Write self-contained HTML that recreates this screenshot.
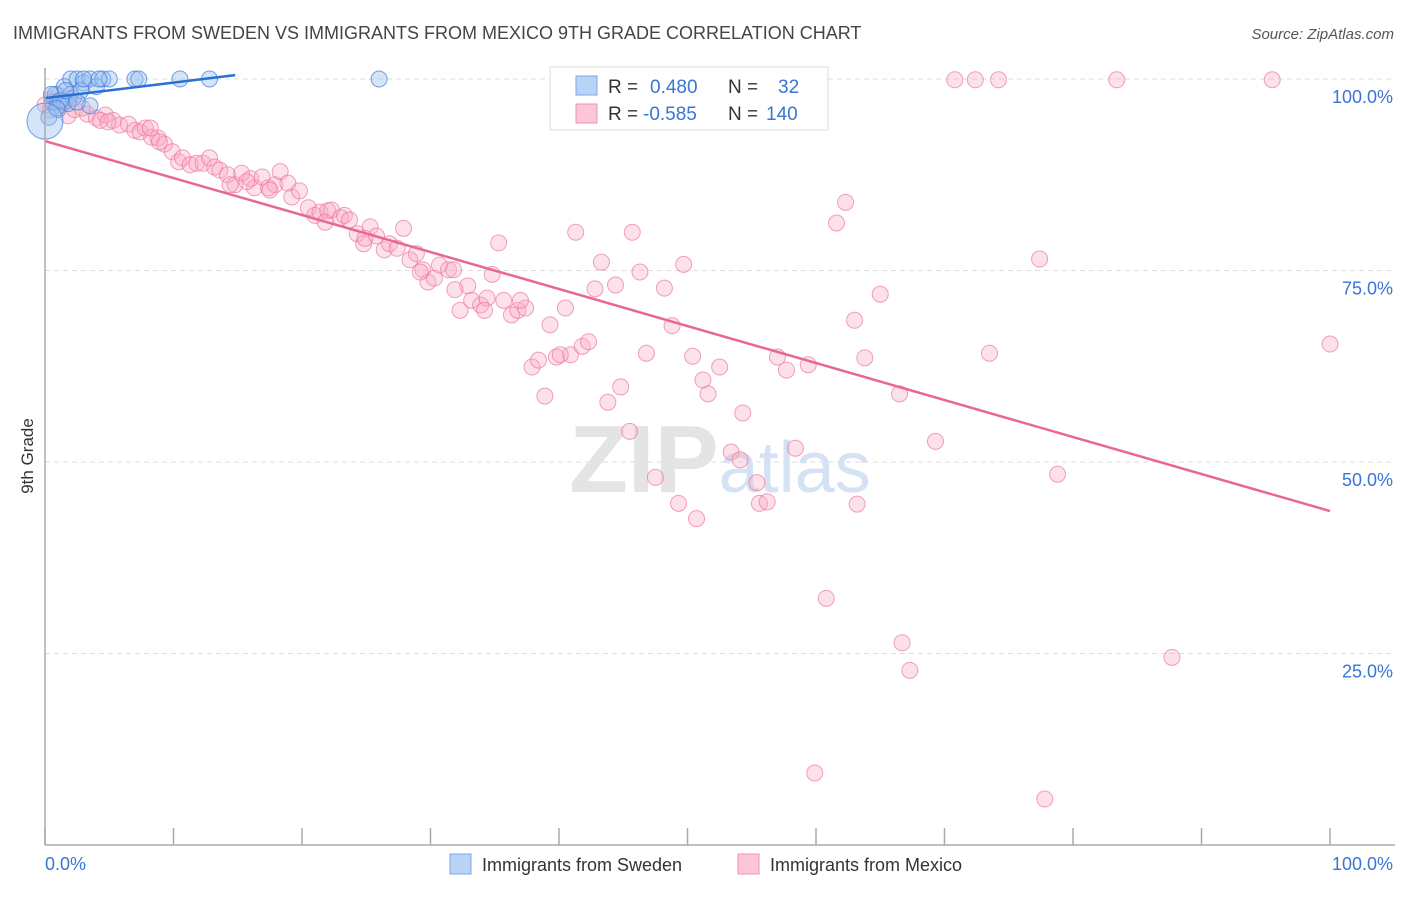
<!DOCTYPE html>
<html><head><meta charset="utf-8"><style>
body{margin:0;background:#fff;font-family:"Liberation Sans",sans-serif;}
svg text{font-family:"Liberation Sans",sans-serif;}
</style></head><body>
<svg id="chart" width="1406" height="892" viewBox="0 0 1406 892" xmlns="http://www.w3.org/2000/svg">
<text x="13" y="39" font-size="18" fill="#444">IMMIGRANTS FROM SWEDEN VS IMMIGRANTS FROM MEXICO 9TH GRADE CORRELATION CHART</text>
<text x="1394" y="39" font-size="15" fill="#555" text-anchor="end" font-style="italic">Source: ZipAtlas.com</text>
<text transform="translate(33,456) rotate(-90)" font-size="17" fill="#333" text-anchor="middle">9th Grade</text>
<g id="grid"></g>
<text x="720" y="492" font-size="96" text-anchor="middle" fill="#e4e4e4" font-family="Liberation Serif" font-weight="bold">ZIP<tspan fill="#d4e2f4" font-family="Liberation Sans" font-weight="normal" font-size="72">atlas</tspan></text>
<g id="pink"></g>
<g id="blue"></g>
<g id="trends"></g>
<g id="axes"></g>
<g>
<rect x="550" y="67" width="278" height="63" fill="#fff" stroke="#ddd"/>
<rect x="576" y="76" width="21" height="19" fill="#b8d3f5" stroke="#7aa8e4"/>
<rect x="576" y="104" width="21" height="19" fill="#fbc6d6" stroke="#f090b0"/>
<text x="608" y="93" font-size="19" fill="#333">R = <tspan fill="#3a74d4" x="650">0.480</tspan><tspan x="728" fill="#333">N =</tspan><tspan x="778" fill="#3a74d4">32</tspan></text>
<text x="608" y="120" font-size="19" fill="#333">R = <tspan fill="#3a74d4" x="643">-0.585</tspan><tspan x="728" fill="#333">N =</tspan><tspan x="766" fill="#3a74d4">140</tspan></text>
</g>
<g>
<rect x="450" y="854" width="21" height="20" fill="#b8d3f5" stroke="#7aa8e4"/>
<text x="482" y="871" font-size="18" fill="#333">Immigrants from Sweden</text>
<rect x="738" y="854" width="21" height="20" fill="#fbc6d6" stroke="#f090b0"/>
<text x="770" y="871" font-size="18" fill="#333">Immigrants from Mexico</text>
</g>
</svg>
<script>
const yTicks=[100,75,50,25];
const yTickLabels=["100.0%","75.0%","50.0%","25.0%"];
const xEndLabels=["0.0%","100.0%"];
const blueX=[0.6,0.8,1,1.5,2,2.5,3,3.5,4,4.5,5,1.5,2,1,3.5,7,7.3,10.5,12.8,26,0.3,2.2,0.5,1.8,2.8,4.2,1.2,0.9,2.5,3,1.6,0];
const blueY=[97,98,97,99,100,100,99.5,100,99,100,100,97,98,96,96.5,100,100,100,100,100,95,97.5,98,96.8,98.5,100,97.2,96.2,97,100,98.5,94.5];
const pinkX=[0.5,1.2,1.8,2.3,3.3,4.0,4.7,5.3,5.8,6.5,7.0,7.4,7.8,8.3,8.8,9.3,9.9,10.4,10.7,11.3,11.8,12.3,12.8,13.2,13.6,14.2,14.8,15.3,16.0,16.3,16.9,17.4,17.9,18.3,18.9,19.2,19.8,20.5,21.0,21.4,22.0,22.3,23.0,23.3,23.7,24.3,24.8,25.3,25.8,26.4,26.8,27.4,27.9,28.4,28.9,29.4,29.8,30.3,30.7,31.4,31.8,32.3,32.9,33.2,33.9,34.4,34.8,35.3,35.7,36.3,36.8,37.4,37.9,38.4,38.9,39.3,39.8,40.5,40.9,41.3,41.8,42.3,42.8,43.3,43.8,44.4,44.8,45.5,45.7,46.3,46.8,47.5,47.7,48.2,48.8,49.3,49.7,50.4,50.7,51.2,51.6,52.5,53.4,54.1,54.3,55.4,55.6,56.2,57.0,57.7,58.4,58.8,59.4,59.9,60.8,61.6,62.3,63.0,63.2,63.8,65.0,66.5,66.7,67.3,69.3,70.8,72.4,73.5,74.2,77.4,77.8,78.8,83.4,87.7,95.5,100,0,0.4,1.0,1.5,1.9,2.9,4.3,4.9,8.2,8.9,14.4,15.7,17.5,21.8,24.9,29.2,31.9,34.2,37.0,40.1];
const pinkY=[97.3,96.6,95.2,96.0,95.4,94.9,95.3,94.6,94.0,94.1,93.3,93.1,93.6,92.4,92.3,91.5,90.5,89.2,89.7,88.8,89.0,89.0,89.7,88.5,88.1,87.5,86.2,87.7,87.0,85.8,87.2,85.8,86.2,87.9,86.4,84.6,85.4,83.2,82.2,82.6,82.8,82.9,81.9,82.2,81.6,79.8,78.5,80.7,79.5,77.7,78.5,77.9,80.5,76.4,77.2,75.1,73.5,74.0,75.7,75.1,75.1,69.8,73.0,71.1,70.5,71.4,74.5,78.6,71.1,69.2,69.8,70.1,62.4,63.3,58.6,67.9,63.7,70.1,64.0,80.0,65.1,65.7,72.6,76.1,57.8,73.1,59.8,54.0,80.0,74.8,64.2,48.0,99.9,72.7,67.8,44.6,75.8,63.8,42.6,60.7,58.9,62.4,51.3,50.3,56.4,47.3,44.6,44.8,63.7,62.0,51.8,99.9,62.7,9.4,32.2,81.2,83.9,68.5,44.5,63.6,71.9,58.9,26.4,22.8,52.7,99.9,99.9,64.2,99.9,76.5,6.0,48.4,99.9,24.5,99.9,65.4,96.6,96.0,97.9,97.0,97.5,96.2,94.6,94.4,93.6,91.8,86.2,86.6,85.5,81.3,79.2,74.8,72.5,69.8,71.1,64.0];
const blueTrendX=[0,14.8];
const blueTrendY=[97.5,100.5];
const pinkTrendX=[0,100];
const pinkTrendY=[91.9,43.6];

const NS="http://www.w3.org/2000/svg";
const X0=45,X1=1330,Y0=845,Y100=79;
function sx(v){return X0+(X1-X0)*v/100;}
function sy(v){return Y0-(Y0-Y100)*v/100;}
function mk(tag,attrs,parent){const e=document.createElementNS(NS,tag);for(const k in attrs)e.setAttribute(k,attrs[k]);parent.appendChild(e);return e;}

const grid=document.getElementById('grid');
yTicks.forEach((t,i)=>{
  const l=mk('line',{x1:X0,x2:1395,y1:sy(t),y2:sy(t),stroke:'#ddd','stroke-dasharray':'5,4'},grid);
  
  
  const tx=mk('text',{x:1393,y:sy(t)+24,'font-size':18,fill:'#3a74d4','text-anchor':'end'},grid);
  tx.textContent=yTickLabels[i];
  
  
});
const axes=document.getElementById('axes');
const la=mk('line',{x1:X0,x2:X0,y1:68,y2:Y0,stroke:'#aaa','stroke-width':1.5},axes);


const lb=mk('line',{x1:X0,x2:1395,y1:Y0,y2:Y0,stroke:'#aaa','stroke-width':1.5},axes);


for(let i=0;i<=10;i++){
  const t=mk('line',{x1:sx(i*10),x2:sx(i*10),y1:828,y2:Y0,stroke:'#aaa','stroke-width':1.5},axes);
  
  
}
const xl0=mk('text',{x:45,y:870,'font-size':18,fill:'#3a74d4'},axes);xl0.textContent=xEndLabels[0];


const xl1=mk('text',{x:1393,y:870,'font-size':18,fill:'#3a74d4','text-anchor':'end'},axes);xl1.textContent=xEndLabels[1];



const pg=document.getElementById('pink');
pinkX.forEach((x,i)=>{
  const c=mk('circle',{cx:sx(x),cy:sy(pinkY[i]),r:8,fill:'rgba(248,170,196,0.35)',stroke:'rgba(236,120,160,0.7)','stroke-width':1},pg);
  
  
});
const bg=document.getElementById('blue');
blueX.forEach((x,i)=>{
  const big=(i===blueX.length-1);
  const c=mk('circle',{cx:sx(x),cy:sy(blueY[i]),r:big?18:8,fill:'rgba(150,190,240,0.4)',stroke:'rgba(70,130,220,0.75)','stroke-width':1},bg);
  
  
});
const tg=document.getElementById('trends');
const pt=mk('line',{x1:sx(pinkTrendX[0]),y1:sy(pinkTrendY[0]),x2:sx(pinkTrendX[1]),y2:sy(pinkTrendY[1]),stroke:'#e8688f','stroke-width':2.5},tg);


const bt=mk('line',{x1:sx(blueTrendX[0]),y1:sy(blueTrendY[0]),x2:sx(blueTrendX[1]),y2:sy(blueTrendY[1]),stroke:'#2a6fd4','stroke-width':2.5},tg);


</script>
</body></html>
